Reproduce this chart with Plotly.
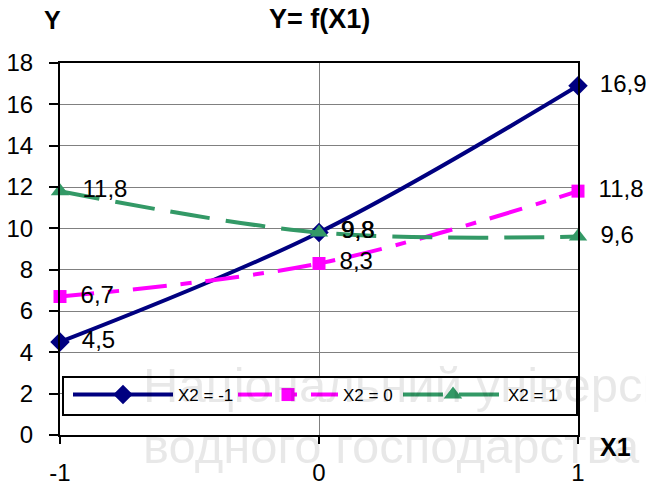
import plotly.graph_objects as go

x1 = [-1, 0, 1]
y_m1 = [4.5, 9.8, 16.9]
y_0 = [6.7, 8.3, 11.8]
y_p1 = [11.8, 9.8, 9.6]
names = ["X2 = -1", "X2 = 0", "X2 = 1"]

FONT = "Liberation Sans, Arial, sans-serif"

fig = go.Figure()
specs = [
    (y_m1, names[0], "#000080", "solid", "diamond", 15),
    (y_0, names[1], "#FF00FF", "34px,14px,11px,14px", "square", 13),
    (y_p1, names[2], "#339966", "40px,16px", "triangle-up", 16),
]
for ys, nm, col, dash, sym, ms in specs:
    fig.add_trace(go.Scatter(
        x=x1, y=ys, name=nm, mode="lines+markers+text",
        line=dict(color=col, width=4, dash=dash, shape="spline", smoothing=1),
        marker=dict(symbol=sym, size=ms, color=col),
        texttemplate="\u00a0\u2009%{y:.1f}", textposition="middle right",
        textfont=dict(family=FONT, size=24, color="black"),
        cliponaxis=False,
    ))

# figure sits 8px in from the page's top-left corner
fig.update_layout(
    width=646, height=478,
    margin=dict(l=52, r=76, t=55, b=51, autoexpand=False),
    paper_bgcolor="white", plot_bgcolor="white",
    separators=",.",
    font=dict(family=FONT, color="black"),
    showlegend=True,
)

pw, ph = 518, 372
def px(xw): return (xw - 60) / pw      # window px -> paper x
def py(yw): return (435 - yw) / ph     # window px -> paper y

fig.update_layout(
    legend=dict(
        orientation="h", x=px(68), y=py(395), xanchor="left", yanchor="middle",
        bgcolor="rgba(0,0,0,0)", borderwidth=0,
        font=dict(family=FONT, size=17, color="black"),
        entrywidth=50, entrywidthmode="pixels", itemwidth=100,
    ),
    shapes=[dict(type="rect", xref="paper", yref="paper",
                 x0=px(63), x1=px(577), y0=py(415), y1=py(377),
                 fillcolor="white", line=dict(color="black", width=2),
                 layer="above")],
)

WM = "rgba(0,0,0,0.09)"
anns = [
    ("<b>Y= f(X1)</b>", 319, 19, 27, FONT, "black", "center"),
    ("<b>Y</b>", 52, 20, 25, FONT, "black", "center"),
    ("<b>X1</b>", 615, 447, 25, FONT, "black", "center"),
    ("Національний університет", 141, 385, 49, FONT, WM, "left"),
    ("водного господарства", 141, 446, 49, FONT, WM, "left"),
]
fig.update_layout(annotations=[
    dict(text=t, x=px(xx), y=py(yy), xref="paper", yref="paper",
         xanchor=xa, yanchor="middle", showarrow=False,
         font=dict(size=s, family=f, color=c))
    for t, xx, yy, s, f, c, xa in anns
])

fig.update_xaxes(
    range=[-1, 1], tickvals=[-1, 0, 1], ticktext=["-1", "0", "1"],
    showgrid=True, gridcolor="#808080", gridwidth=1,
    showline=True, linecolor="black", linewidth=2, mirror=True,
    ticks="outside", ticklen=7, tickcolor="black", tickwidth=2,
    tickfont=dict(size=24, family=FONT), ticklabelstandoff=8,
    zeroline=False, automargin=False,
)
fig.update_yaxes(
    range=[0, 18], dtick=2,
    showgrid=True, gridcolor="#808080", gridwidth=1,
    showline=True, linecolor="black", linewidth=2, mirror=True,
    ticks="outside", ticklen=9, tickcolor="black", tickwidth=2,
    tickfont=dict(size=24, family=FONT), ticklabelstandoff=11,
    zeroline=False, automargin=False,
)

fig.write_html("out.html")
